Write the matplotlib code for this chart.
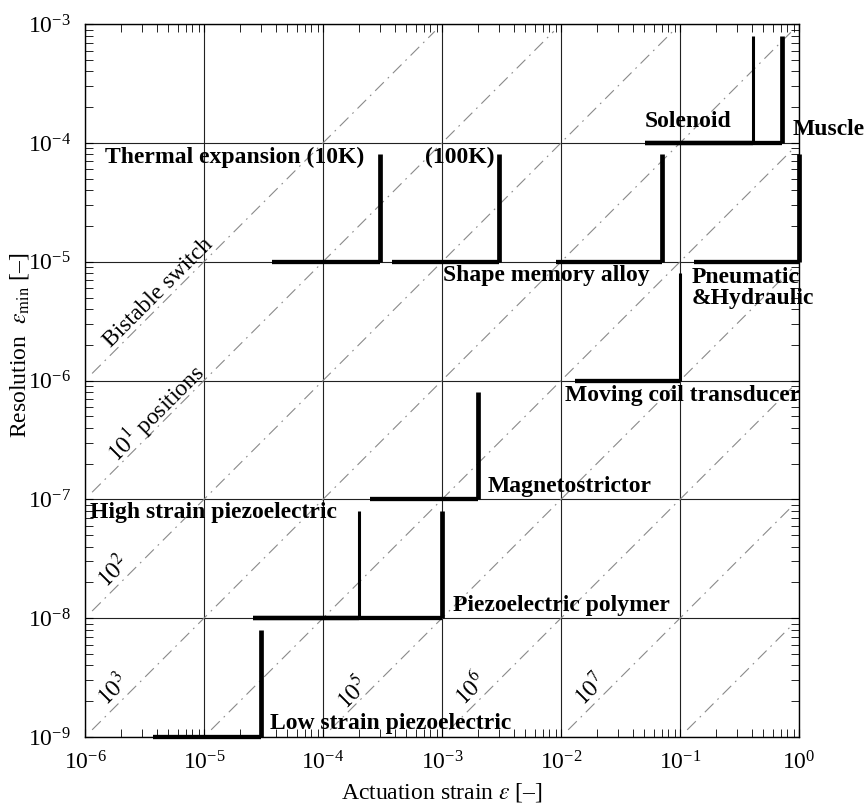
import matplotlib
matplotlib.use("Agg")
import matplotlib.pyplot as plt
import numpy as np
from matplotlib.ticker import LogLocator, NullFormatter

plt.rcParams["font.family"] = ["Liberation Serif", "DejaVu Serif"]
plt.rcParams["mathtext.fontset"] = "stix"

# actuator classes: horizontal run at the resolution level, then a vertical up to resolution_top
names = [
    "Low strain piezoelectric", "High strain piezoelectric", "Piezoelectric polymer",
    "Magnetostrictor", "Moving coil transducer", "Thermal expansion (10K)", "(100K)",
    "Shape memory alloy", "Pneumatic\n&Hydraulic", "Solenoid", "Muscle",
]
resolution = [1e-9, 1e-8, 1e-8, 1e-7, 1e-6, 1e-5, 1e-5, 1e-5, 1e-5, 1e-4, 1e-4]
strain_min = [3.7e-6, 2.6e-5, 2.6e-5, 2.5e-4, 1.3e-2, 3.7e-5, 3.8e-4, 9e-3, 1.3e-1, 5.1e-2, 5.1e-2]
strain_max = [3e-5, 2e-4, 1e-3, 2e-3, 1e-1, 3e-4, 3e-3, 7e-2, 1.0, 4.1e-1, 7.2e-1]
resolution_top = [8e-9, 8e-8, 8e-8, 8e-7, 8e-6, 8e-5, 8e-5, 8e-5, 8e-5, 8e-4, 8e-4]
thin_vertical = [False, True, False, False, True, False, False, False, False, True, False]

label_x = [3.6e-5, 1.1e-6, 1.23e-3, 2.4e-3, 1.07e-2, 1.48e-6, 7.2e-4, 1.02e-3, 1.24e-1, 5.0e-2, 8.8e-1]
label_y = [1.29e-9, 7.8e-8, 1.29e-8, 1.29e-7, 7.5e-7, 7.6e-5, 7.6e-5, 7.6e-6, 6.0e-6, 1.53e-4, 1.29e-4]

# lines of constant number of positions eps / eps_min
ratios = [1e0, 1e1, 1e2, 1e3, 1e4, 1e5, 1e6, 1e7, 1e8]
ratio_labels = ["Bistable switch", r"$10^1$ positions", r"$10^2$", r"$10^3$", r"$10^5$", r"$10^6$", r"$10^7$"]
ratio_label_x = [10**-5.38, 10**-5.40, 10**-5.76, 10**-5.76, 10**-3.75, 10**-2.76, 10**-1.75]
ratio_label_y = [10**-5.26, 10**-6.28, 10**-7.61, 10**-8.60, 10**-8.63, 10**-8.60, 10**-8.60]

xmin, xmax = 1e-6, 1e0
ymin, ymax = 1e-9, 1e-3

fig = plt.figure(figsize=(8.67, 8.05), dpi=100)
ax = fig.add_axes([0.098, 0.0845, 0.8236, 0.8855])
ax.set_xscale("log")
ax.set_yscale("log")
ax.set_xlim(xmin, xmax)
ax.set_ylim(ymin, ymax)

ax.grid(True, which="major", color="#222222", linewidth=0.8)

margin = 10**0.06
for r in ratios:
    x0 = max(xmin, r * ymin) * margin
    x1 = min(xmax, r * ymax) / margin
    xs = np.array([x0, x1])
    ax.plot(xs, xs / r, color="#8a8a8a", linewidth=0.8, dashes=(11, 5, 1.5, 5), zorder=2)

for i, name in enumerate(names):
    ax.plot([strain_min[i], strain_max[i]], [resolution[i], resolution[i]],
            color="black", linewidth=3.1, solid_capstyle="butt", clip_on=False, zorder=4)
    ax.plot([strain_max[i], strain_max[i]], [resolution[i], resolution_top[i]],
            color="black", linewidth=2.2 if thin_vertical[i] else 3.4,
            solid_capstyle="butt", clip_on=False, zorder=4)
    ax.text(label_x[i], label_y[i], name, fontsize=17, fontweight="bold",
            ha="left", va="center", linespacing=1.0, zorder=5)

for text, tx, ty in zip(ratio_labels, ratio_label_x, ratio_label_y):
    ax.text(tx, ty, text, fontsize=17, rotation=45, rotation_mode="anchor",
            ha="center", va="center", zorder=5)

ax.xaxis.set_major_locator(LogLocator(base=10, numticks=10))
ax.yaxis.set_major_locator(LogLocator(base=10, numticks=10))
ax.xaxis.set_minor_locator(LogLocator(base=10, subs=np.arange(2, 10), numticks=20))
ax.yaxis.set_minor_locator(LogLocator(base=10, subs=np.arange(2, 10), numticks=20))
ax.xaxis.set_minor_formatter(NullFormatter())
ax.yaxis.set_minor_formatter(NullFormatter())
ax.tick_params(which="both", direction="in", top=True, right=True, labelsize=17)
ax.tick_params(which="major", length=6, pad=10)
ax.tick_params(which="minor", length=6)
for spine in ax.spines.values():
    spine.set_linewidth(1.0)

ax.set_xlabel(r"Actuation strain $\epsilon$ [–]", fontsize=17)
ax.set_ylabel(r"Resolution  $\epsilon_{\rm min}$ [–]", fontsize=17)
ax.xaxis.set_label_coords(0.5, -0.062)
ax.yaxis.set_label_coords(-0.075, 0.55)

fig.savefig("out.png", dpi=100)
